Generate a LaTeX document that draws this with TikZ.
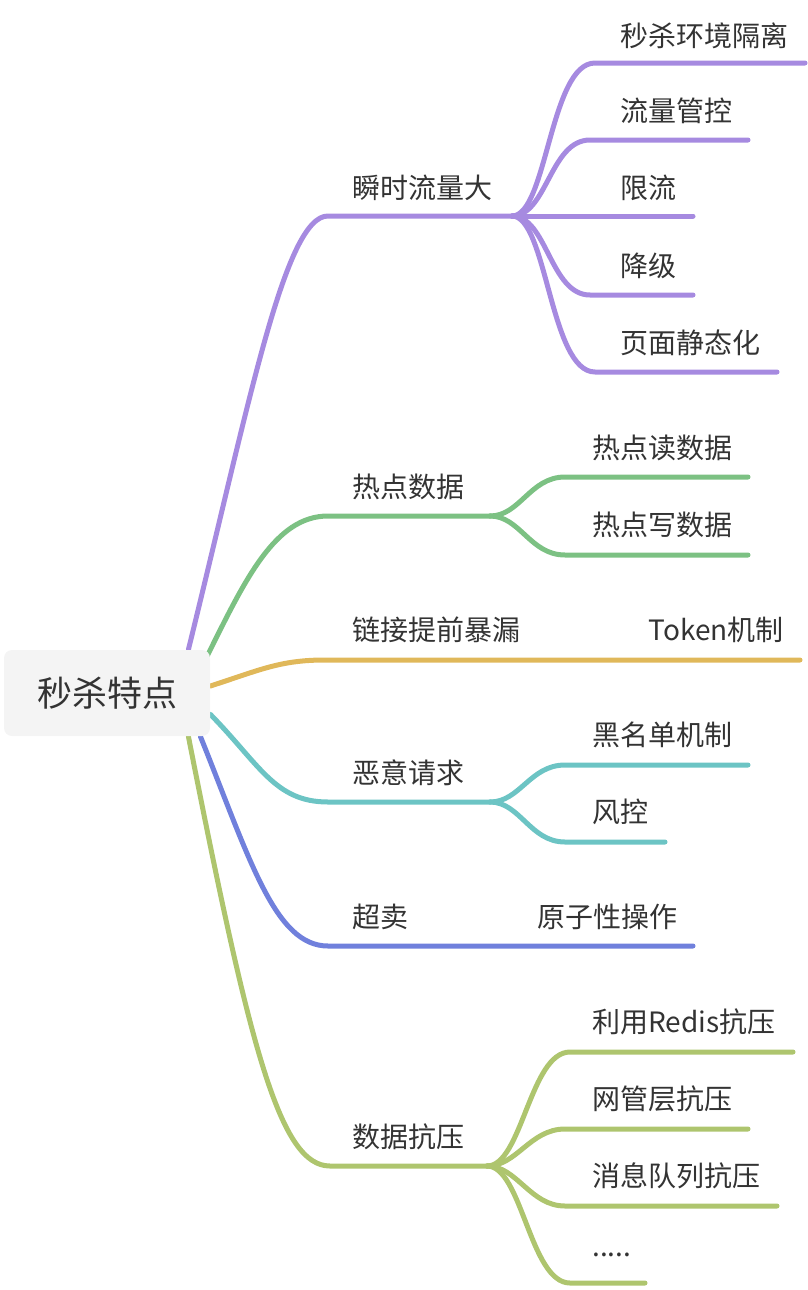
\documentclass[tikz,border=0pt]{standalone}
\usepackage{fontspec}
\newfontfamily\cjk{Noto Sans CJK SC}
\usetikzlibrary{calc,backgrounds}
\definecolor{textgray}{HTML}{333333}
\definecolor{rootfill}{HTML}{F4F4F4}
\definecolor{cPurple}{HTML}{A68AE0}
\definecolor{cGreen}{HTML}{7CC183}
\definecolor{cYellow}{HTML}{E0B85A}
\definecolor{cTeal}{HTML}{6CC4C4}
\definecolor{cBlue}{HTML}{7080DC}
\definecolor{cOlive}{HTML}{AEC56E}
\tikzset{
  branch/.style={line width=2.5pt, line cap=round},
  leaf/.style={anchor=west, inner sep=0pt, text=textgray, font=\cjk\fontsize{14pt}{16pt}\selectfont},
  rootbox/.style={fill=rootfill, rounded corners=4pt, minimum width=103pt, minimum height=43pt, text=textgray, font=\cjk\fontsize{17.5pt}{20pt}\selectfont}
}

\begin{document}
\begin{tikzpicture}[x=0.5pt, y=-0.5pt]
			%%%%% START %%%%%
			\useasboundingbox (0, 0) rectangle (808, 1290);
			
			\node[rootbox] (root) at (107, 693) {秒杀特点};
			
			% main branch ends
			\coordinate (fast) at (328, 216);
			\coordinate (fastEnd) at (512, 216);
			\coordinate (hot) at (328, 516);
			\coordinate (hotEnd) at (490, 516);
			\coordinate (leak) at (325, 660);
			\coordinate (leakEnd) at (800, 660);
			\coordinate (evil) at (328, 802);
			\coordinate (evilEnd) at (490, 802);
			\coordinate (over) at (328, 946);
			\coordinate (overEnd) at (693, 946);
			\coordinate (load) at (330, 1166);
			\coordinate (loadEnd) at (487, 1166);
			
			\begin{scope}[on background layer]
			\draw[branch, cPurple] ($(root.north east)+(-22, 0)$) .. controls (250, 400) and (285, 216) .. (fast) -- (fastEnd);
			\draw[branch, cGreen] ($(root.north east)+(-3, 6)$) .. controls (245, 580) and (275, 516) .. (hot) -- (hotEnd);
			\draw[branch, cYellow] ($(root.east)+(0, -7)$) .. controls (260, 670) and (280, 660) .. (leak) -- (leakEnd);
			\draw[branch, cTeal] ($(root.south east)+(0, -22)$) .. controls (260, 765) and (275, 802) .. (evil) -- (evilEnd);
			\draw[branch, cBlue] ($(root.south east)+(-10, 0)$) .. controls (250, 860) and (275, 946) .. (over) -- (overEnd);
			\draw[branch, cOlive] ($(root.south east)+(-22, 0)$) .. controls (250, 1050) and (280, 1166) .. (load) -- (loadEnd);
			\end{scope}
			
			% 瞬时流量大
			\node[leaf] (fastLbl) at (352, 188) {瞬时流量大};
			\coordinate (iso) at (595, 63);      \coordinate (isoEnd) at (805, 63);
			\coordinate (ctrl) at (590, 140);    \coordinate (ctrlEnd) at (748, 140);
			\coordinate (limitEnd) at (693, 216);
			\coordinate (degr) at (590, 295);    \coordinate (degrEnd) at (693, 295);
			\coordinate (stat) at (595, 372);    \coordinate (statEnd) at (777, 372);
			\draw[branch, cPurple] (fastEnd) .. controls +(35, 0) and +(-45, 0) .. (iso) -- (isoEnd);
			\draw[branch, cPurple] (fastEnd) .. controls +(35, 0) and +(-40, 0) .. (ctrl) -- (ctrlEnd);
			\draw[branch, cPurple] (fastEnd) -- (limitEnd);
			\draw[branch, cPurple] (fastEnd) .. controls +(35, 0) and +(-40, 0) .. (degr) -- (degrEnd);
			\draw[branch, cPurple] (fastEnd) .. controls +(35, 0) and +(-45, 0) .. (stat) -- (statEnd);
			\node[leaf] (isoLbl) at (620, 36) {秒杀环境隔离};
			\node[leaf] (ctrlLbl) at (620, 111) {流量管控};
			\node[leaf] (limitLbl) at (620, 188) {限流};
			\node[leaf] (degrLbl) at (620, 266) {降级};
			\node[leaf] (statLbl) at (620, 343) {页面静态化};
			
			% 热点数据
			\node[leaf] (hotLbl) at (352, 487) {热点数据};
			\coordinate (read) at (565, 477);    \coordinate (readEnd) at (748, 477);
			\coordinate (write) at (565, 555);   \coordinate (writeEnd) at (748, 555);
			\draw[branch, cGreen] (hotEnd) .. controls +(30, 0) and +(-35, 0) .. (read) -- (readEnd);
			\draw[branch, cGreen] (hotEnd) .. controls +(30, 0) and +(-35, 0) .. (write) -- (writeEnd);
			\node[leaf] (readLbl) at (592, 448) {热点读数据};
			\node[leaf] (writeLbl) at (592, 525) {热点写数据};
			
			% 链接提前暴漏
			\node[leaf] (leakLbl) at (352, 630) {链接提前暴漏};
			\node[leaf] (tokenLbl) at (648, 630) {Token机制};
			
			% 恶意请求
			\node[leaf] (evilLbl) at (352, 773) {恶意请求};
			\coordinate (black) at (565, 765);   \coordinate (blackEnd) at (748, 765);
			\coordinate (risk) at (565, 842);    \coordinate (riskEnd) at (665, 842);
			\draw[branch, cTeal] (evilEnd) .. controls +(30, 0) and +(-35, 0) .. (black) -- (blackEnd);
			\draw[branch, cTeal] (evilEnd) .. controls +(30, 0) and +(-35, 0) .. (risk) -- (riskEnd);
			\node[leaf] (blackLbl) at (592, 735) {黑名单机制};
			\node[leaf] (riskLbl) at (592, 812) {风控};
			
			% 超卖
			\node[leaf] (overLbl) at (352, 917) {超卖};
			\node[leaf] (atomLbl) at (537, 917) {原子性操作};
			
			% 数据抗压
			\node[leaf] (loadLbl) at (352, 1137) {数据抗压};
			\coordinate (redis) at (570, 1052);  \coordinate (redisEnd) at (793, 1052);
			\coordinate (gate) at (565, 1129);   \coordinate (gateEnd) at (748, 1129);
			\coordinate (mq) at (565, 1206);     \coordinate (mqEnd) at (777, 1206);
			\coordinate (more) at (570, 1283);   \coordinate (moreEnd) at (645, 1283);
			\draw[branch, cOlive] (loadEnd) .. controls +(35, 0) and +(-40, 0) .. (redis) -- (redisEnd);
			\draw[branch, cOlive] (loadEnd) .. controls +(30, 0) and +(-35, 0) .. (gate) -- (gateEnd);
			\draw[branch, cOlive] (loadEnd) .. controls +(30, 0) and +(-35, 0) .. (mq) -- (mqEnd);
			\draw[branch, cOlive] (loadEnd) .. controls +(35, 0) and +(-40, 0) .. (more) -- (moreEnd);
			\node[leaf] (redisLbl) at (592, 1022) {利用Redis抗压};
			\node[leaf] (gateLbl) at (592, 1099) {网管层抗压};
			\node[leaf] (mqLbl) at (592, 1176) {消息队列抗压};
			\node[leaf] (moreLbl) at (592, 1255) {.....};
			
			%%%%% END %%%%%
\end{tikzpicture}
\end{document}
